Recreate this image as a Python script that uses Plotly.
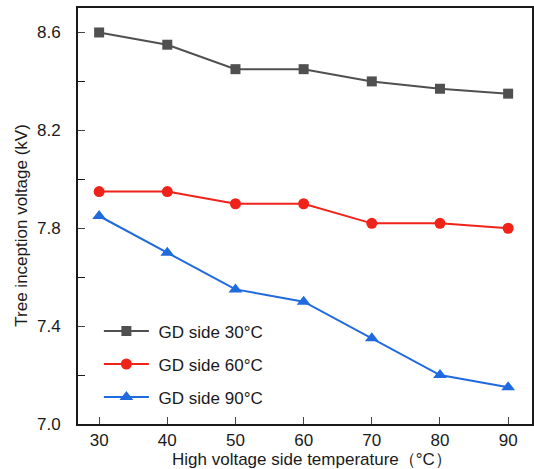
import plotly.graph_objects as go

temps = [30, 40, 50, 60, 70, 80, 90]
gd30 = [8.60, 8.55, 8.45, 8.45, 8.40, 8.37, 8.35]
gd60 = [7.95, 7.95, 7.90, 7.90, 7.82, 7.82, 7.80]
gd90 = [7.85, 7.70, 7.55, 7.50, 7.35, 7.20, 7.15]
names = ["GD side 30°C", "GD side 60°C", "GD side 90°C"]
colors = ["#505050", "#f0231a", "#1f6ade"]
symbols = ["square", "circle", "triangle-up"]
sizes = [10, 11, 12]
x_title = "High voltage side temperature（°C）"
y_title = "Tree inception voltage (kV)"

fig = go.Figure()
for i, ys in enumerate([gd30, gd60, gd90]):
    fig.add_trace(go.Scatter(
        x=temps, y=ys, mode="lines+markers", name="\u00a0" + names[i],
        legendgroup=f"g{i}",
        line=dict(color=colors[i], width=2),
        marker=dict(symbol=symbols[i], size=sizes[i], color=colors[i]),
    ))

font = dict(family="Liberation Sans, Arial, sans-serif", size=17, color="#1a1a1a")
fig.update_layout(
    width=534, height=469,
    margin=dict(l=78, r=2, t=8, b=45),
    paper_bgcolor="white", plot_bgcolor="white",
    font=font,
    showlegend=True,
    legend=dict(x=0.046, y=0.266, xanchor="left", yanchor="top",
                bgcolor="rgba(0,0,0,0)", font=dict(size=17, color="#1a1a1a"),
                tracegroupgap=8, itemwidth=45),
    xaxis=dict(range=[26.9, 93.5], tickvals=temps, ticks="inside", ticklen=7,
               showline=True, linecolor="#1a1a1a", linewidth=2, mirror=True,
               showgrid=False, zeroline=False, automargin=False,
               ticklabelstandoff=0),
    yaxis=dict(range=[7.0, 8.7], tickvals=[7.0, 7.4, 7.8, 8.2, 8.6],
               tickformat=".1f", ticks="inside", ticklen=7,
               ticklabelstandoff=12,
               minor=dict(tickvals=[7.2, 7.6, 8.0, 8.4], ticks="inside", ticklen=7,
                          tickcolor="#1a1a1a"),
               showline=True, linecolor="#1a1a1a", linewidth=2, mirror=True,
               showgrid=False, zeroline=False, automargin=False),
    annotations=[
        dict(text=x_title, xref="paper", yref="paper", x=0.515, y=-0.085,
             xanchor="center", yanchor="middle", showarrow=False,
             font=dict(size=17, color="#1a1a1a")),
        dict(text=y_title, xref="paper", yref="paper", x=-0.1244, y=0.478,
             xanchor="center", yanchor="middle", textangle=-90, showarrow=False,
             font=dict(size=17, color="#1a1a1a")),
    ],
)
fig.write_html(
    "out.html",
    config={"displayModeBar": False},
    post_script="document.body.style.margin='0';document.body.style.overflow='hidden';",
)
